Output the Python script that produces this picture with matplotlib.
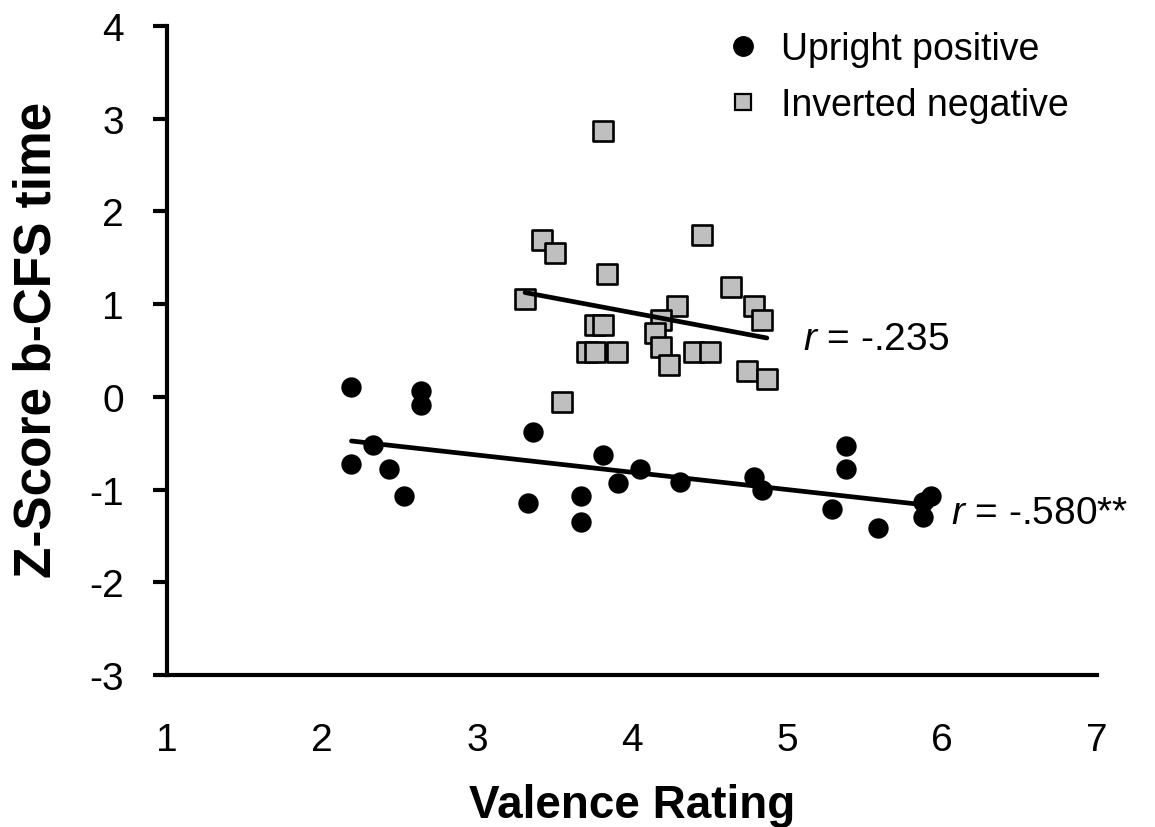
import numpy as np
import matplotlib
matplotlib.use("Agg")
import matplotlib.pyplot as plt
from matplotlib.lines import Line2D

plt.rcParams['font.family'] = ['Liberation Sans', 'DejaVu Sans']
plt.rcParams['mathtext.fontset'] = 'custom'
plt.rcParams['mathtext.rm'] = 'Liberation Sans'
plt.rcParams['mathtext.it'] = 'Liberation Sans:italic'

# Upright positive (circles)
up_x = [2.19, 2.19, 2.33, 2.43, 2.53, 2.64, 2.64, 3.36, 3.33, 3.67, 3.67, 3.81,
        3.91, 4.05, 4.31, 4.79, 4.84, 5.38, 5.38, 5.29, 5.59, 5.93, 5.88, 5.88]
up_y = [0.11, -0.72, -0.52, -0.78, -1.07, 0.06, -0.09, -0.38, -1.15, -1.07, -1.35, -0.63,
        -0.93, -0.78, -0.92, -0.86, -1.01, -0.53, -0.78, -1.21, -1.42, -1.07, -1.30, -1.13]

# Inverted negative (squares)
inv_x = [3.81, 3.42, 3.50, 3.84, 4.45, 3.31, 4.64, 4.29, 4.79, 4.84, 4.19, 3.76,
         3.81, 4.15, 4.19, 3.71, 3.76, 3.90, 4.40, 4.50, 4.24, 4.74, 4.87, 3.55]
inv_y = [2.87, 1.69, 1.55, 1.32, 1.75, 1.06, 1.18, 0.98, 0.98, 0.83, 0.83, 0.77,
         0.77, 0.69, 0.54, 0.48, 0.48, 0.48, 0.48, 0.48, 0.34, 0.28, 0.19, -0.06]

series_labels = ["Upright positive", "Inverted negative"]
r_labels = [r"$\mathit{r}$ = -.580**", r"$\mathit{r}$ = -.235"]
x_ticks = [1, 2, 3, 4, 5, 6, 7]
y_ticks = [-3, -2, -1, 0, 1, 2, 3, 4]

fig = plt.figure(figsize=(11.55, 8.28), dpi=100)
ax = fig.add_axes([0.1446, 0.1836, 0.8052, 0.7838])

ax.scatter(up_x, up_y, s=215, marker='o', color='black', zorder=3, linewidths=0)
ax.scatter(inv_x, inv_y, s=190, marker='s', facecolor='#bfbfbf', edgecolor='black',
           linewidths=1.9, zorder=3)

for xs, ys in [(up_x, up_y), (inv_x, inv_y)]:
    xs = np.array(xs); ys = np.array(ys)
    m, b = np.polyfit(xs, ys, 1)
    xx = np.array([xs.min(), xs.max()])
    ax.plot(xx, m * xx + b, color='black', lw=3.4, solid_capstyle='round', zorder=4)

ax.set_xlim(1, 7)
ax.set_ylim(-3, 4)
ax.set_xticks(x_ticks)
ax.set_yticks(y_ticks)
ax.set_xticklabels([str(t) for t in x_ticks], fontsize=28)
ax.set_yticklabels([str(t) for t in y_ticks], fontsize=28)
ax.tick_params(axis='x', length=0, pad=34)
ax.tick_params(axis='y', length=10, width=3, direction='out', pad=21)
for s in ['top', 'right']:
    ax.spines[s].set_visible(False)
for s in ['left', 'bottom']:
    ax.spines[s].set_linewidth(3)

ax.set_xlabel("Valence Rating", fontsize=33, fontweight='bold', labelpad=18)
ax.set_ylabel("Z-Score b-CFS time", fontsize=37, fontweight='bold', labelpad=20)
ax.yaxis.label.set_y(0.518)

ax.text(6.06, -1.25, r_labels[0], fontsize=28, va='center', ha='left')
ax.text(5.10, 0.62, r_labels[1], fontsize=28, va='center', ha='left')

handles = [
    Line2D([], [], marker='o', linestyle='none', color='black', markersize=14),
    Line2D([], [], marker='s', linestyle='none', markerfacecolor='#bfbfbf',
           markeredgecolor='black', markeredgewidth=1.6, markersize=12),
]
fig.legend(handles, series_labels, loc='upper left', bbox_to_anchor=(0.606, 0.991),
           frameon=False, fontsize=27, handlelength=1.0, handletextpad=0.5,
           labelspacing=0.55, borderaxespad=0.25)

fig.savefig("out.png", dpi=100)
